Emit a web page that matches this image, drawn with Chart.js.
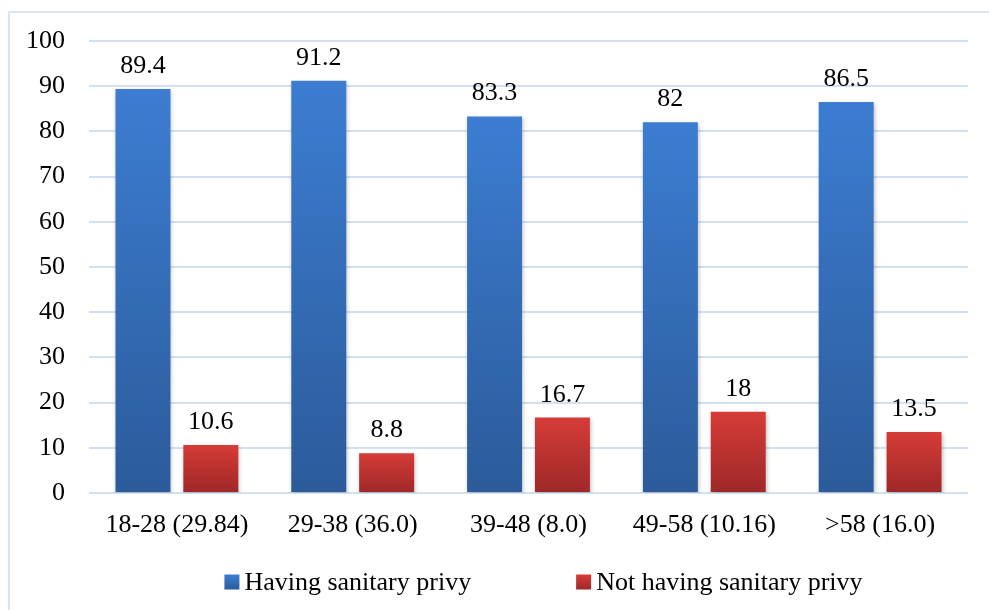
<!DOCTYPE html>
<html>
<head>
<meta charset="utf-8">
<script src="https://cdn.jsdelivr.net/npm/chart.js@4/dist/chart.umd.min.js"></script>
<style>
  html, body { margin: 0; padding: 0; background: #fff; }
  #wrap { position: relative; width: 989px; height: 610px; overflow: hidden; }
  #frame { position: absolute; left: 8px; top: 11px; width: 1000px; height: 700px;
           border: 2px solid #d9e4f2; box-sizing: border-box; pointer-events: none; }
  canvas { position: absolute; left: 0; top: 0; }
</style>
</head>
<body>
<div id="wrap">
  <div id="frame"></div>
  <canvas id="c" width="989" height="610"></canvas>
</div>
<script>
// Age groups (with share of respondents in brackets)
const categories = ['18-28 (29.84)', '29-38 (36.0)', '39-48 (8.0)', '49-58 (10.16)', '>58 (16.0)'];
const seriesNames = ['Having sanitary privy', 'Not having sanitary privy'];
const havingPrivy = [89.4, 91.2, 83.3, 82, 86.5];
const notHavingPrivy = [10.6, 8.8, 16.7, 18, 13.5];
const yTicks = [0, 10, 20, 30, 40, 50, 60, 70, 80, 90, 100];

const FONT = "'Liberation Serif', Tinos, 'Times New Roman', 'DejaVu Serif', serif";
const FONT_SIZE = 26;

const palettes = [
  { top: '#3c7dd2', bottom: '#2b5b9a' },
  { top: '#d63c37', bottom: '#9e2828' }
];

// Vertical gradient spanning each bar from its top to the zero line
function barGradient(idx) {
  return (ctx) => {
    const chart = ctx.chart;
    const y = chart.scales.y;
    if (!chart.chartArea || !y || ctx.raw == null) return palettes[idx].top;
    const top = y.getPixelForValue(ctx.raw);
    const base = y.getPixelForValue(0);
    const g = chart.ctx.createLinearGradient(0, top, 0, base);
    g.addColorStop(0, palettes[idx].top);
    g.addColorStop(1, palettes[idx].bottom);
    return g;
  };
}

// Soft drop shadow under the bars
const barShadow = {
  id: 'barShadow',
  beforeDatasetsDraw(chart) {
    const c = chart.ctx;
    c.save();
    c.shadowColor = 'rgba(0,0,0,0.25)';
    c.shadowBlur = 4;
    c.shadowOffsetX = 1;
    c.shadowOffsetY = 2;
  },
  afterDatasetsDraw(chart) {
    chart.ctx.restore();
  }
};

// Value labels above each bar
const valueLabels = {
  id: 'valueLabels',
  afterDatasetsDraw(chart) {
    const c = chart.ctx;
    c.save();
    c.font = FONT_SIZE + 'px ' + FONT;
    c.fillStyle = '#000';
    c.textAlign = 'center';
    c.textBaseline = 'alphabetic';
    chart.data.datasets.forEach((ds, di) => {
      const meta = chart.getDatasetMeta(di);
      meta.data.forEach((bar, i) => {
        c.fillText(String(ds.data[i]), bar.x, bar.y - 16);
      });
    });
    c.restore();
  }
};

// Legend row under the axis labels
const bottomLegend = {
  id: 'bottomLegend',
  afterDraw(chart) {
    const c = chart.ctx;
    const area = chart.chartArea;
    c.save();
    c.font = FONT_SIZE + 'px ' + FONT;
    const box = 15, gap = 5, spacing = 105;
    const widths = seriesNames.map(n => box + gap + c.measureText(n).width);
    const total = widths.reduce((a, b) => a + b, 0) + spacing;
    let x = (area.left + area.right) / 2 + 15 - total / 2;
    const yMid = 582;
    seriesNames.forEach((name, i) => {
      const g = c.createLinearGradient(0, yMid - box / 2, 0, yMid + box / 2);
      g.addColorStop(0, palettes[i].top);
      g.addColorStop(1, palettes[i].bottom);
      c.fillStyle = g;
      c.fillRect(x, yMid - box / 2, box, box);
      c.fillStyle = '#000';
      c.textAlign = 'left';
      c.textBaseline = 'middle';
      c.fillText(name, x + box + gap, yMid + 1);
      x += widths[i] + spacing;
    });
    c.restore();
  }
};

function draw() {
  new Chart(document.getElementById('c'), {
    type: 'bar',
    data: {
      labels: categories,
      datasets: [
        { label: seriesNames[0], data: havingPrivy, backgroundColor: barGradient(0),
          categoryPercentage: 0.772, barPercentage: 0.81 },
        { label: seriesNames[1], data: notHavingPrivy, backgroundColor: barGradient(1),
          categoryPercentage: 0.772, barPercentage: 0.81 }
      ]
    },
    options: {
      responsive: false,
      animation: false,
      layout: { padding: { top: 41, right: 21, bottom: 0, left: 0 } },
      plugins: {
        legend: { display: false },
        tooltip: { enabled: false }
      },
      scales: {
        x: {
          grid: { display: false, drawTicks: false },
          border: { display: false },
          ticks: { color: '#000', font: { family: FONT, size: FONT_SIZE }, padding: 17, maxRotation: 0 },
          afterFit: (s) => { s.height = 117; }
        },
        y: {
          min: 0, max: 100,
          afterBuildTicks: (s) => { s.ticks = yTicks.map(v => ({ value: v })); },
          grid: { color: '#d3e0f1', lineWidth: 2, drawTicks: false },
          border: { display: false },
          ticks: { color: '#000', font: { family: FONT, size: FONT_SIZE }, padding: 24 },
          afterFit: (s) => { s.width = 89; }
        }
      }
    },
    plugins: [barShadow, valueLabels, bottomLegend]
  });
}

const fontReady = document.fonts && document.fonts.load
  ? document.fonts.load(FONT_SIZE + "px 'Liberation Serif'").catch(() => {})
  : Promise.resolve();
fontReady.then(draw, draw);
</script>
</body>
</html>
